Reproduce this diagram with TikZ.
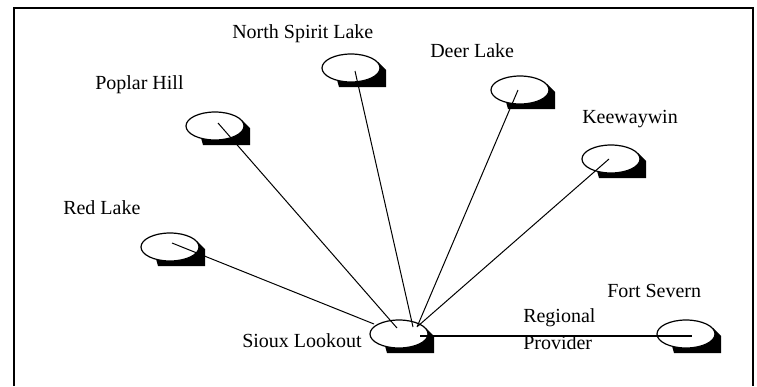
\documentclass[tikz,border=0pt]{standalone}
\usepackage{fontspec}
\setmainfont{Liberation Serif}
\usetikzlibrary{calc,backgrounds,shapes.geometric}
\begin{document}
\begin{tikzpicture}[x=0.75pt,y=-0.75pt,
  site/.style={ellipse,draw=black,line width=0.9pt,fill=white,
    minimum width=43.5pt,minimum height=21pt,inner sep=0pt},
  place/.style={font=\fontsize{15pt}{20.25pt}\selectfont,inner sep=0pt,anchor=base west},
  link/.style={draw=black,line width=0.75pt},
  trunk/.style={draw=black,line width=1.4pt},
  frameline/.style={draw=black,line width=1.5pt}]
\useasboundingbox (0,0) rectangle (757,386);

% open frame (runs off the bottom edge)
\coordinate (fbl) at (13.5,386);
\coordinate (ftl) at (13.5,7.5);
\coordinate (ftr) at (753,7.5);
\coordinate (fbr) at (753,386);
\draw[frameline] (fbl) -- (ftl) -- (ftr) -- (fbr);

% sites
\node[site] (nsl)    at (351,68)  {};
\node[site] (deer)   at (520,90)  {};
\node[site] (poplar) at (215,126) {};
\node[site] (kee)    at (611,159) {};
\node[site] (red)    at (170,247) {};
\node[site] (sioux)  at (399,334) {};
\node[site] (fort)   at (686,334) {};

% drop shadows behind the sites
\begin{scope}[on background layer]
  \fill[white] (0,0) rectangle (757,386);
  \foreach \s in {nsl,deer,poplar,kee,red,sioux,fort}
    \fill[black] ($(\s.center)+(-14,12)$) -- ($(\s.center)+(-12,19)$)
      -- ($(\s.center)+(35,19)$) -- ($(\s.center)+(35,2)$)
      -- ($(\s.center)+(27,-6)$) -- cycle;
\end{scope}

% labels
\node[place] (t-nsl)    at (232,38)  {North Spirit Lake};
\node[place] (t-deer)   at (430,57)  {Deer Lake};
\node[place] (t-poplar) at (95,89)   {Poplar Hill};
\node[place] (t-kee)    at (582,123) {Keewaywin};
\node[place] (t-red)    at (63,214)  {Red Lake};
\node[place] (t-sioux)  at (242,347) {Sioux Lookout};
\node[place] (t-fort)   at (607,297) {Fort Severn};
\node[place,anchor=north west,align=left] (t-reg) at (523,308) {Regional\\Provider};

% link end points inside the ellipses
\coordinate (e-nsl)    at ($(nsl.center)+(4,3)$);
\coordinate (e-deer)   at ($(deer.center)+(-2,0)$);
\coordinate (e-poplar) at ($(poplar.center)+(3,-3)$);
\coordinate (e-kee)    at ($(kee.center)+(-2,0)$);
\coordinate (e-red)    at ($(red.center)+(2,-4)$);
\coordinate (e-fort)   at ($(fort.center)+(6,2)$);

% hub ends on Sioux Lookout
\coordinate (h-red)    at ($(sioux.center)+(-25,-10)$);
\coordinate (h-poplar) at ($(sioux.center)+(-2,-6)$);
\coordinate (h-nsl)    at ($(sioux.center)+(14,-7)$);
\coordinate (h-deer)   at ($(sioux.center)+(18,-7)$);
\coordinate (h-kee)    at ($(sioux.center)+(19,-8)$);
\coordinate (h-fort)   at ($(sioux.center)+(21,2)$);

% links
\draw[link] (e-red)    -- (h-red);
\draw[link] (e-poplar) -- (h-poplar);
\draw[link] (e-nsl)    -- (h-nsl);
\draw[link] (e-deer)   -- (h-deer);
\draw[link] (e-kee)    -- (h-kee);
\draw[trunk] (h-fort)  -- (e-fort);
\end{tikzpicture}
\end{document}
